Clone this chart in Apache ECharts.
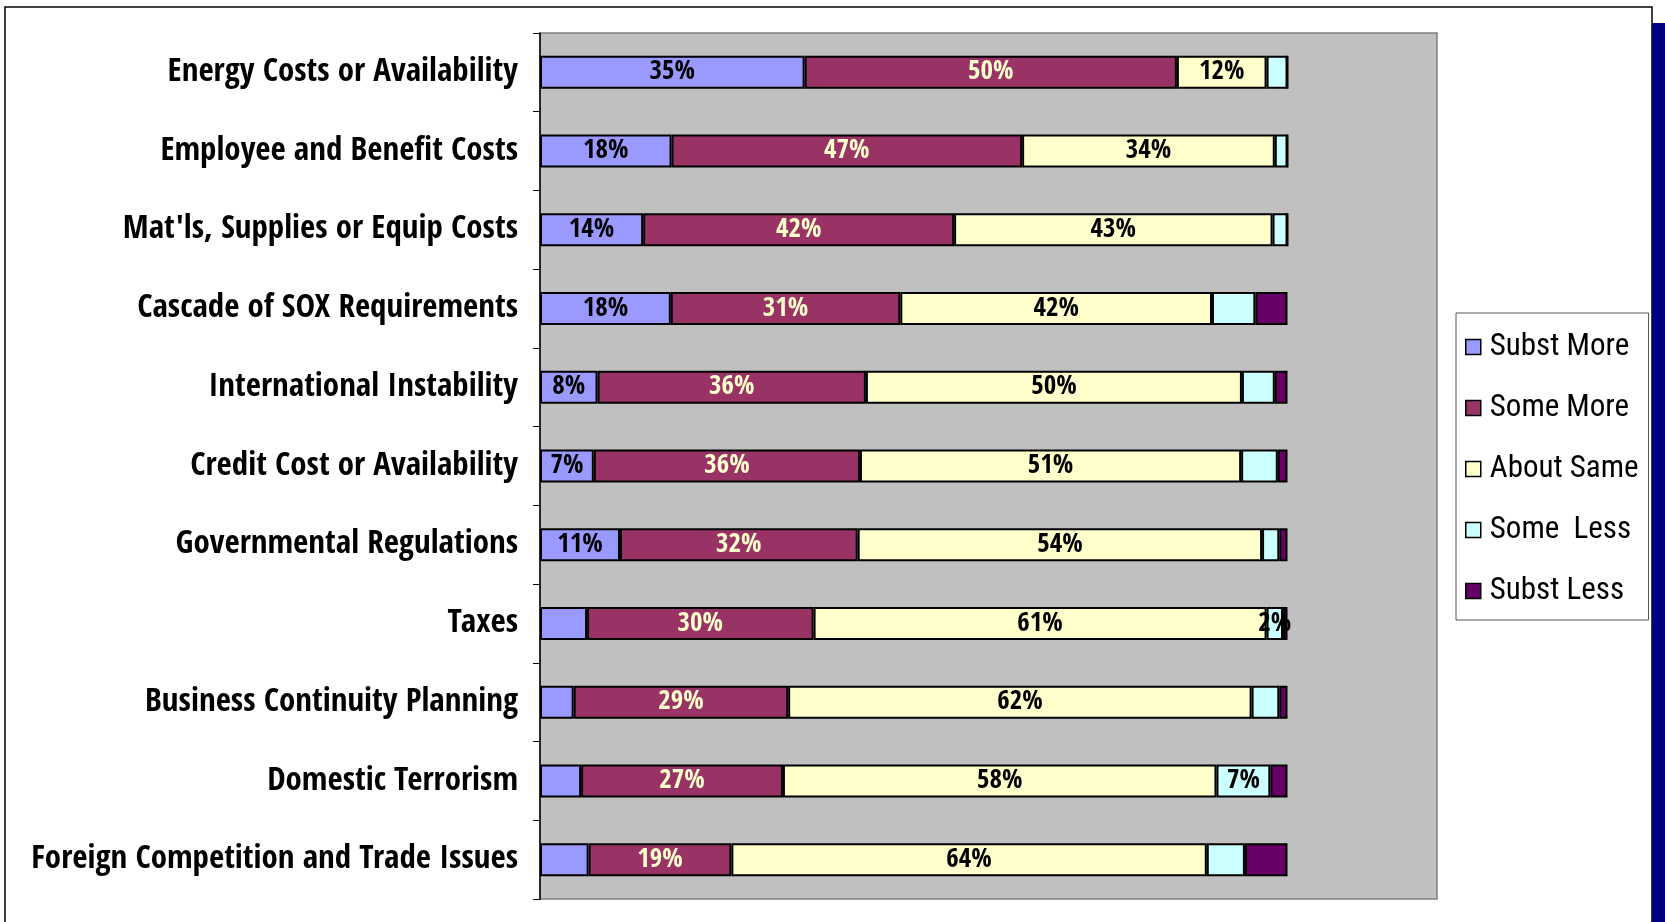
<!DOCTYPE html>
<html><head><meta charset="utf-8">
<script src="https://cdn.jsdelivr.net/npm/echarts@6/dist/echarts.min.js"></script>
<style>html,body{margin:0;padding:0;background:#fff}#c{width:1665px;height:922px}</style>
</head><body><div id="c"></div>
<script>
const categories = ["Energy Costs or Availability","Employee and Benefit Costs","Mat'ls, Supplies or Equip Costs","Cascade of SOX Requirements","International Instability","Credit Cost or Availability","Governmental Regulations","Taxes","Business Continuity Planning","Domestic Terrorism","Foreign Competition and Trade Issues"];
const seriesNames = ["Subst More","Some More","About Same","Some  Less","Subst Less"];
const substMore = [35.4,17.6,13.8,17.5,7.7,7.2,10.7,6.3,4.5,5.5,6.5];
const someMore  = [49.8,46.9,41.6,30.7,35.9,35.6,31.8,30.3,28.7,27.0,19.1];
const aboutSame = [12.0,33.8,42.6,41.7,50.3,51.0,54.1,60.6,62.0,58.0,63.6];
const someLess  = [2.8,1.7,2.0,5.8,4.4,4.9,2.3,2.2,3.7,7.2,5.1];
const substLess = [0,0,0,4.3,1.7,1.3,1.1,0.6,1.1,2.3,5.7];
// category indices whose value label is shown, per series
const labelShown = [[0,1,2,3,4,5,6],[0,1,2,3,4,5,6,7,8,9,10],[0,1,2,3,4,5,6,7,8,9,10],[7,9],[]];
const colors = ["#9999FF","#993366","#FFFFCC","#CCFFFF","#660066"];
const labelColors = ["#000","#FFFFCC","#000","#000","#000"];
const values = [substMore, someMore, aboutSame, someLess, substLess];
const FONT = "'Open Sans Condensed','Roboto Condensed',sans-serif";
const LEGEND_FONT = "'Roboto Condensed','Open Sans Condensed',sans-serif";

const chart = echarts.init(document.getElementById('c'));
const series = seriesNames.map((name, s) => ({
  name, type: 'bar', stack: 'all', barWidth: 33,
  itemStyle: {color: colors[s], borderColor: '#000', borderWidth: 2},
  data: values[s].map((v, i) => ({
    value: v,
    label: {show: labelShown[s].includes(i)}
  })),
  label: {
    position: 'inside', color: labelColors[s], fontFamily: FONT,
    fontWeight: 'bold', fontSize: 27,
    formatter: p => Math.round(p.value) + '%'
  }
}));

chart.setOption({
  animation: false,
  backgroundColor: '#fff',
  graphic: [
    {type: 'rect', z: -10, shape: {x: 5, y: 7, width: 1647, height: 940}, style: {fill: 'none', stroke: '#000', lineWidth: 1.5}},
    {type: 'rect', z: -10, shape: {x: 1652, y: 23, width: 13, height: 899}, style: {fill: '#000080'}}
  ],
  grid: {left: 540, top: 33, width: 897, height: 866, containLabel: false, outerBoundsMode: 'none',
         show: true, backgroundColor: '#C0C0C0', borderColor: '#808080', borderWidth: 1.5},
  xAxis: {type: 'value', min: 0, max: 120, show: false},
  yAxis: {
    type: 'category', data: categories, inverse: true,
    axisLine: {lineStyle: {color: '#000', width: 1.5}},
    axisTick: {show: true, length: 7, lineStyle: {color: '#000', width: 1}},
    axisLabel: {color: '#000', fontFamily: FONT, fontWeight: 'bold', fontSize: 33, margin: 22, padding: [4,0,0,0]}
  },
  legend: {
    orient: 'vertical', left: 1456, top: 313,
    data: seriesNames,
    backgroundColor: '#fff', borderColor: '#555', borderWidth: 1,
    padding: [17, 10, 12, 9],
    itemWidth: 15, itemHeight: 15, itemGap: 27,
    icon: 'rect',
    itemStyle: {borderColor: '#000', borderWidth: 1.5},
    textStyle: {fontFamily: LEGEND_FONT, fontWeight: 'normal', fontSize: 31, color: '#000', lineHeight: 34, padding: [0,0,0,4]}
  },
  series
});
</script></body></html>
